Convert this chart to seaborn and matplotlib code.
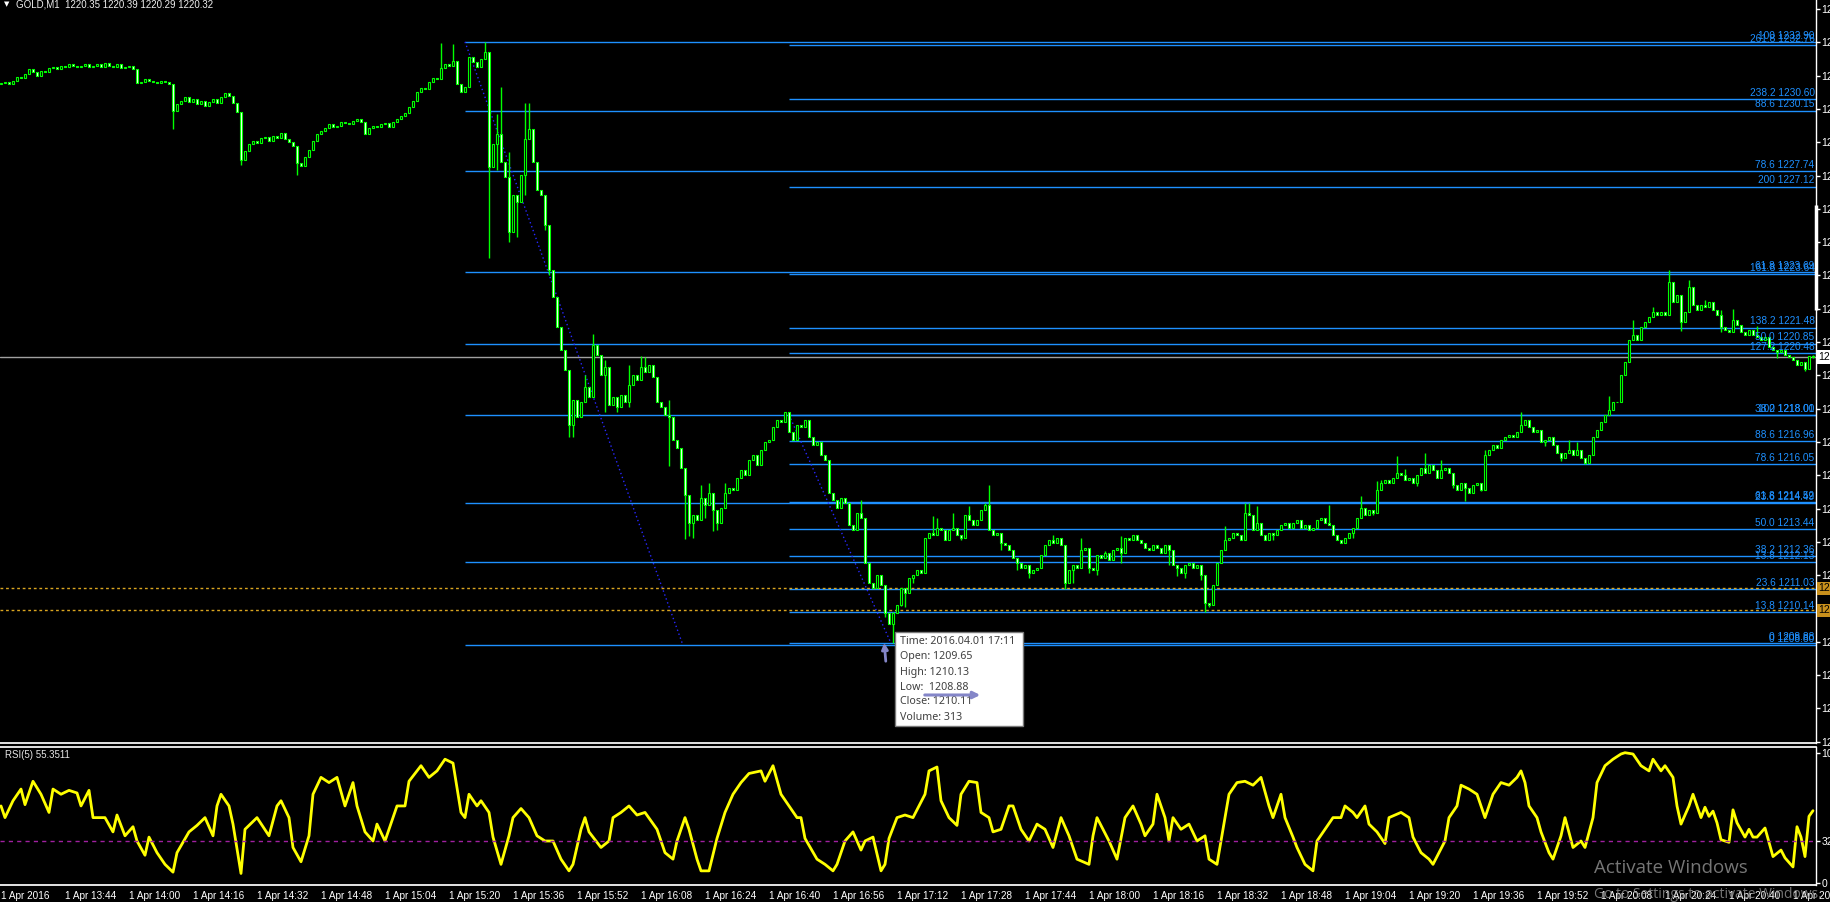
import numpy as np
import matplotlib
matplotlib.use("Agg")
import matplotlib.pyplot as plt
import seaborn as sns
from matplotlib.patches import Rectangle, FancyArrowPatch

# ---------------- data (GOLD M1, 1 Apr 2016, bars from 13:28) ----------------
first_open = 1231.20
closes = [
    1231.25, 1231.30, 1231.20, 1231.35, 1231.50, 1231.45, 1231.60, 1231.80, 1231.70, 1231.55,
    1231.75, 1231.70, 1231.85, 1231.90, 1231.80, 1231.95, 1231.90, 1232.00, 1231.95, 1231.90,
    1231.95, 1232.00, 1231.90, 1231.95, 1232.00, 1231.90, 1232.05, 1231.95, 1231.90, 1232.00,
    1231.85, 1231.90, 1231.95, 1231.80, 1231.25, 1231.30, 1231.40, 1231.35, 1231.30, 1231.25,
    1231.35, 1231.30, 1231.20, 1230.15, 1230.40, 1230.55, 1230.70, 1230.50, 1230.60, 1230.40,
    1230.55, 1230.35, 1230.50, 1230.60, 1230.45, 1230.70, 1230.85, 1230.75, 1230.45, 1230.10,
    1228.20, 1228.55, 1228.80, 1228.95, 1228.85, 1229.05, 1229.10, 1228.95, 1229.15, 1229.05,
    1229.25, 1229.00, 1228.90, 1228.75, 1228.05, 1227.95, 1228.30, 1228.60, 1228.95, 1229.20,
    1229.35, 1229.45, 1229.60, 1229.50, 1229.55, 1229.70, 1229.65, 1229.60, 1229.75, 1229.80,
    1229.70, 1229.20, 1229.45, 1229.55, 1229.50, 1229.60, 1229.65, 1229.50, 1229.70, 1229.80,
    1229.95, 1230.05, 1230.30, 1230.55, 1230.90, 1231.05, 1231.00, 1231.30, 1231.45, 1231.40,
    1231.85, 1232.00, 1231.95, 1232.15, 1231.20, 1230.90, 1231.10, 1232.30, 1232.10, 1231.90,
    1232.20, 1232.50, 1227.90, 1228.80, 1229.20, 1228.10, 1227.50, 1225.30, 1226.80, 1226.50,
    1227.60, 1229.00, 1229.40, 1228.10, 1227.00, 1226.80, 1225.60, 1223.80, 1222.70, 1221.50,
    1220.60, 1219.80, 1217.60, 1218.60, 1217.90, 1218.50, 1219.10, 1218.70, 1220.80, 1220.40,
    1219.60, 1219.90, 1218.40, 1218.70, 1218.30, 1218.80, 1218.50, 1219.20, 1219.60, 1219.40,
    1219.90, 1219.70, 1220.00, 1219.50, 1218.50, 1218.30, 1218.00, 1217.90, 1217.00, 1216.70,
    1215.90, 1214.80, 1213.70, 1214.00, 1213.80, 1214.70, 1214.40, 1214.90, 1214.20, 1213.70,
    1214.30, 1214.90, 1215.10, 1215.00, 1215.50, 1215.80, 1215.60, 1216.20, 1216.40, 1216.00,
    1216.60, 1216.90, 1217.00, 1217.50, 1217.80, 1217.70, 1218.10, 1217.30, 1217.00, 1217.60,
    1217.50, 1217.80, 1217.10, 1216.80, 1216.90, 1216.40, 1216.20, 1214.90, 1214.60, 1214.30,
    1214.70, 1214.50, 1213.60, 1213.40, 1214.10, 1213.90, 1212.10, 1211.30, 1211.10, 1211.60,
    1211.20, 1210.10, 1209.65, 1210.11, 1210.40, 1211.10, 1210.90, 1211.50, 1211.60, 1211.80,
    1211.70, 1213.10, 1213.30, 1213.20, 1213.50, 1213.40, 1213.00, 1213.40, 1213.50, 1213.20,
    1213.10, 1214.00, 1213.80, 1213.60, 1213.80, 1214.20, 1214.40, 1213.40, 1213.20, 1213.30,
    1212.90, 1212.80, 1212.60, 1212.30, 1212.10, 1211.90, 1212.00, 1211.70, 1211.80, 1211.90,
    1212.40, 1212.80, 1213.00, 1212.90, 1213.10, 1212.80, 1211.30, 1211.80, 1212.00, 1211.90,
    1212.60, 1212.70, 1211.90, 1211.80, 1212.40, 1212.30, 1212.50, 1212.20, 1212.60, 1212.70,
    1212.50, 1213.10, 1213.00, 1213.20, 1213.00, 1212.90, 1212.70, 1212.60, 1212.80, 1212.70,
    1212.50, 1212.80, 1212.60, 1212.00, 1211.90, 1211.70, 1212.00, 1212.10, 1211.90, 1212.00,
    1211.60, 1210.50, 1210.40, 1211.20, 1212.10, 1212.60, 1213.00, 1213.10, 1213.30, 1213.20,
    1213.00, 1214.10, 1214.00, 1213.40, 1213.70, 1213.20, 1213.00, 1213.30, 1213.20, 1213.40,
    1213.60, 1213.70, 1213.50, 1213.70, 1213.80, 1213.50, 1213.60, 1213.40, 1213.50, 1213.80,
    1213.90, 1213.70, 1213.60, 1213.20, 1213.00, 1212.90, 1213.10, 1213.30, 1213.50, 1213.90,
    1214.30, 1214.00, 1214.20, 1214.10, 1215.00, 1215.30, 1215.40, 1215.30, 1215.50, 1215.70,
    1215.60, 1215.40, 1215.50, 1215.30, 1215.60, 1215.90, 1215.70, 1216.00, 1215.80, 1215.50,
    1215.80, 1215.90, 1215.70, 1215.20, 1215.00, 1215.30, 1215.10, 1214.90, 1215.20, 1215.30,
    1215.00, 1216.40, 1216.60, 1216.80, 1216.70, 1217.00, 1217.10, 1217.20, 1217.10, 1217.30,
    1217.60, 1217.80, 1217.50, 1217.30, 1217.40, 1216.90, 1217.00, 1217.10, 1216.80, 1216.50,
    1216.30, 1216.50, 1216.60, 1216.40, 1216.60, 1216.30, 1216.10, 1216.40, 1217.10, 1217.40,
    1217.70, 1218.00, 1218.20, 1218.50, 1218.50, 1219.60, 1220.10, 1221.00, 1221.20, 1221.00,
    1221.50, 1221.70, 1221.90, 1222.10, 1222.00, 1222.10, 1222.00, 1223.30, 1222.50, 1222.80,
    1221.70, 1222.10, 1223.10, 1222.40, 1222.20, 1222.40, 1222.30, 1222.50, 1222.20, 1222.00,
    1221.50, 1221.40, 1221.30, 1221.80, 1221.60, 1221.30, 1221.20, 1221.40, 1221.20, 1221.10,
    1221.00, 1221.10, 1220.70, 1220.60, 1220.50, 1220.60, 1220.40, 1220.30, 1220.20, 1220.00,
    1220.10, 1219.85, 1220.35, 1220.32,
]
wick_high = {110: 1232.85, 113: 1232.80, 121: 1232.90, 124: 1230.00, 125: 1231.10,
             127: 1228.50, 131: 1230.46, 132: 1230.45, 146: 1219.60, 148: 1221.25,
             151: 1220.20, 157: 1220.00, 160: 1220.35, 161: 1220.30, 167: 1218.60,
             175: 1215.20, 177: 1215.30, 181: 1215.30, 215: 1214.60, 223: 1210.13,
             233: 1213.96, 234: 1213.90, 238: 1214.10, 242: 1214.36, 246: 1214.50,
             247: 1215.20, 263: 1213.20, 270: 1213.10, 276: 1212.55, 280: 1213.15,
             283: 1213.20, 306: 1213.55, 311: 1214.50, 312: 1214.50, 314: 1214.35,
             332: 1214.40, 340: 1214.76, 344: 1215.35, 345: 1215.40, 349: 1216.35,
             351: 1215.85, 356: 1216.50, 360: 1216.20, 371: 1216.60, 373: 1216.80,
             380: 1218.10, 392: 1217.00, 394: 1216.90, 402: 1218.75, 408: 1221.80,
             413: 1222.33, 417: 1223.80, 418: 1222.90, 422: 1223.40, 426: 1222.60,
             430: 1222.20, 433: 1222.25, 439: 1221.54, 453: 1220.39}
wick_low = {43: 1229.40, 60: 1228.00, 74: 1227.60, 122: 1224.25, 124: 1227.80,
            127: 1224.90, 128: 1226.00, 129: 1225.10, 131: 1226.80, 136: 1225.40,
            137: 1223.60, 142: 1217.10, 143: 1217.10, 145: 1217.90, 151: 1218.10,
            154: 1218.10, 157: 1218.30, 167: 1215.96, 171: 1213.05, 172: 1213.15,
            173: 1213.10, 176: 1213.90, 178: 1213.35, 179: 1213.40, 221: 1209.95,
            223: 1208.88, 225: 1210.37, 226: 1210.35, 228: 1211.30, 240: 1213.00,
            250: 1212.60, 254: 1211.80, 257: 1211.50, 266: 1211.05, 268: 1211.30,
            272: 1211.70, 274: 1211.60, 280: 1212.10, 292: 1212.00, 294: 1211.55,
            296: 1211.50, 300: 1211.40, 301: 1210.15, 302: 1210.35, 304: 1211.30,
            318: 1213.00, 334: 1213.15, 338: 1213.10, 343: 1214.00, 354: 1215.15,
            363: 1215.10, 365: 1215.00, 366: 1214.55, 370: 1214.95, 386: 1216.75,
            390: 1216.15, 396: 1216.05, 405: 1218.50, 420: 1221.34, 430: 1221.30,
            444: 1220.28, 451: 1219.75, 453: 1220.29}

# Fibonacci retracements (anchor bar, 0-level price, 100-level price)
fib1_start, fib1_p0, fib1_p100 = 116, 1208.80, 1232.90
fib1_end_bar = 170.5
fib1_levels = ["0", "13.8", "23.6", "38.2", "50.0", "61.8", "78.6", "88.6", "100"]
fib2_start, fib2_p0, fib2_p100 = 197, 1208.88, 1218.00
fib2_end_bar = 222.5
fib2_levels = ["0", "13.8", "23.6", "38.2", "50.0", "61.8", "78.6", "88.6", "100",
               "127.2", "138.2", "161.8", "200", "238.2", "261.8"]
bid_price = 1220.32
order_lines = [1211.07, 1210.20]

price_ticks = [1204.95, 1206.28, 1207.61, 1208.94, 1210.27, 1211.60, 1212.93, 1214.26,
               1215.59, 1216.92, 1218.25, 1219.58, 1220.91, 1222.24, 1223.57, 1224.90,
               1226.23, 1227.56, 1228.89, 1230.22, 1231.55, 1232.88, 1234.21]

time_labels = ["1 Apr 2016", "1 Apr 13:44", "1 Apr 14:00", "1 Apr 14:16", "1 Apr 14:32",
               "1 Apr 14:48", "1 Apr 15:04", "1 Apr 15:20", "1 Apr 15:36", "1 Apr 15:52",
               "1 Apr 16:08", "1 Apr 16:24", "1 Apr 16:40", "1 Apr 16:56", "1 Apr 17:12",
               "1 Apr 17:28", "1 Apr 17:44", "1 Apr 18:00", "1 Apr 18:16", "1 Apr 18:32",
               "1 Apr 18:48", "1 Apr 19:04", "1 Apr 19:20", "1 Apr 19:36", "1 Apr 19:52",
               "1 Apr 20:08", "1 Apr 20:24", "1 Apr 20:40", "1 Apr 20:56"]

rsi_bar = [0, 1, 3, 5, 6, 8, 10, 12, 13, 15, 17, 19, 20, 22, 23, 26, 28, 29, 31, 33, 34, 36, 37, 39,
           41, 43, 44, 47, 49, 51, 53, 54, 55, 57, 58, 60, 61, 64, 67, 69, 70, 72, 73, 75, 77, 78,
           80, 82, 84, 86, 88, 89, 91, 93, 94, 96, 98, 99, 101, 102, 105, 107, 109, 111, 113, 115,
           116, 117, 119, 120, 122, 123, 125, 127, 128, 130, 132, 134, 136, 138, 140, 142, 143,
           145, 146, 147, 150, 152, 153, 155, 157, 159, 161, 164, 166, 168, 169, 171, 172, 174,
           175, 177, 179, 181, 183, 185, 187, 190, 191, 193, 195, 197, 199, 200, 201, 204, 206,
           208, 209, 211, 213, 215, 216, 218, 220, 221, 222, 224, 226, 228, 231, 232, 234, 235,
           237, 239, 240, 242, 244, 245, 247, 248, 250, 252, 253, 255, 257, 259, 261, 263, 265,
           267, 269, 272, 273, 274, 277, 279, 281, 283, 285, 286, 288, 289, 291, 292, 293, 295,
           297, 299, 301, 302, 304, 305, 307, 309, 311, 313, 315, 317, 318, 320, 321, 323, 324,
           326, 328, 329, 331, 333, 335, 336, 338, 339, 341, 342, 344, 346, 347, 350, 352, 353,
           355, 357, 358, 361, 362, 364, 365, 367, 369, 371, 373, 375, 377, 379, 380, 381, 382,
           384, 385, 387, 388, 390, 391, 393, 395, 396, 398, 399, 401, 403, 405, 406, 408, 410,
           412, 413, 415, 416, 418, 419, 420, 422, 423, 425, 426, 427, 428, 429, 430, 432, 433,
           434, 436, 437, 438, 439, 441, 442, 443, 445, 446, 448, 449, 450, 451, 452, 453]
rsi_val = [59, 50, 63, 72, 60, 78, 68, 54, 72, 68, 71, 69, 59, 71, 50, 50, 39, 52, 36, 43, 32, 21,
           35, 23, 14, 8, 23, 39, 44, 50, 36, 59, 68, 59, 45, 7, 41, 50, 36, 59, 63, 50, 27, 16, 36,
           68, 81, 77, 81, 59, 77, 59, 39, 32, 45, 32, 50, 59, 59, 78, 90, 81, 86, 95, 92, 54, 50,
           68, 59, 63, 54, 35, 14, 36, 50, 57, 50, 36, 32, 32, 18, 9, 14, 41, 50, 39, 27, 32, 50,
           54, 59, 52, 54, 41, 23, 18, 32, 50, 41, 18, 9, 9, 34, 54, 68, 77, 84, 86, 78, 90, 68,
           59, 50, 50, 34, 18, 14, 9, 14, 32, 39, 25, 32, 35, 9, 14, 34, 50, 52, 50, 68, 86, 89,
           63, 50, 44, 68, 78, 77, 54, 50, 39, 41, 59, 59, 41, 32, 45, 41, 27, 50, 36, 18, 14, 36,
           50, 32, 18, 50, 59, 45, 36, 45, 68, 50, 32, 50, 41, 45, 32, 36, 18, 14, 32, 68, 77, 78,
           75, 81, 59, 50, 68, 50, 35, 27, 14, 9, 32, 41, 50, 50, 59, 54, 50, 59, 45, 39, 30, 50,
           54, 50, 35, 23, 18, 14, 32, 50, 59, 75, 72, 68, 50, 68, 77, 75, 81, 86, 77, 59, 50, 39,
           23, 18, 36, 50, 27, 32, 27, 50, 77, 90, 95, 99, 100, 99, 90, 86, 95, 86, 90, 81, 59, 45,
           59, 68, 50, 58, 51, 55, 46, 33, 31, 56, 46, 35, 41, 35, 35, 42, 31, 20, 25, 19, 12, 43,
           35, 20, 51, 55.35]
rsi_level = 32

# ---------------- style ----------------
sns.set_theme(style="dark")
plt.rcParams["font.family"] = ["Liberation Sans", "DejaVu Sans"]

W, H = 1831, 902
fig = plt.figure(figsize=(W / 100, H / 100), dpi=100, facecolor="black")


def box(x0, y0, x1, y1):
    return [x0 / W, 1 - y1 / H, (x1 - x0) / W, (y1 - y0) / H]


def fpt(x, y):
    return (x / W, 1 - y / H)


ax = fig.add_axes(box(0, 0, 1816, 743))
axr = fig.add_axes(box(0, 747, 1816, 885))
for a in (ax, axr):
    a.set_facecolor("black")
    a.grid(False)
    for s in a.spines.values():
        s.set_visible(False)
    a.spines["right"].set_visible(True)
    a.spines["right"].set_color("white")
    a.spines["right"].set_linewidth(1)
    a.set_xlim(-0.25, 453.75)
ax.spines["bottom"].set_visible(True)
ax.spines["bottom"].set_color("white")
axr.spines["top"].set_visible(True)
axr.spines["top"].set_color("white")
axr.spines["bottom"].set_visible(True)
axr.spines["bottom"].set_color("white")

# ---------------- candles ----------------
n = len(closes)
xs = np.arange(n)
c = np.array(closes)
o = np.concatenate([[first_open], c[:-1]])
hi = np.maximum(o, c)
lo = np.minimum(o, c)
for k, v in wick_high.items():
    hi[k] = max(hi[k], v)
for k, v in wick_low.items():
    lo[k] = min(lo[k], v)
up = c >= o
ax.vlines(xs, lo, hi, color="#00FF00", lw=1, zorder=3)
ax.bar(xs, np.maximum(np.abs(c - o), 0.02), bottom=np.minimum(o, c), width=0.55,
       color=np.where(up, "black", "white"), edgecolor="#00FF00", linewidth=0.8, zorder=4)

ax.set_ylim(1204.90, 1234.57)
ax.set_xticks([])
ax.yaxis.tick_right()
ax.set_yticks(price_ticks)
ax.set_yticklabels([f"{p:.2f}" for p in price_ticks])
ax.tick_params(axis="y", colors="white", labelsize=7.5, length=2.6, width=1, pad=1.4,
               direction="out")

# ---------------- fibonacci ----------------
fib_col = "#1E90FF"
for start, p0, p100, levels in [(fib1_start, fib1_p0, fib1_p100, fib1_levels),
                                (fib2_start, fib2_p0, fib2_p100, fib2_levels)]:
    for lv in levels:
        p = p0 + float(lv) / 100 * (p100 - p0)
        ax.hlines(p, start, 453.75, color=fib_col, lw=1, zorder=2)
        ax.text(453.4, p + 0.05, f"{lv} {p:.2f}", color=fib_col, fontsize=7.3,
                ha="right", va="bottom", clip_on=True, zorder=5)
ax.plot([fib1_start, fib1_end_bar], [fib1_p100, fib1_p0], color="#2828FF", lw=1,
        ls=(0, (1, 2)), zorder=2)
ax.plot([fib2_start, fib2_end_bar], [fib2_p100, fib2_p0], color="#2828FF", lw=1,
        ls=(0, (1, 2)), zorder=2)

# bid line / pending order lines
ax.axhline(bid_price, color="#A0A0A0", lw=1, zorder=2)
for p in order_lines:
    ax.axhline(p, color="#DAA520", lw=1, ls=(0, (2, 2)), zorder=2)
    ax.text(1.0012, p, f"{p:.2f}", transform=ax.get_yaxis_transform(), color="black",
            fontsize=7.5, va="center", ha="left", clip_on=False, zorder=6,
            bbox=dict(facecolor="#C8901C", edgecolor="none", pad=1.2))
ax.text(1.0012, bid_price, f"{bid_price:.2f}", transform=ax.get_yaxis_transform(),
        color="black", fontsize=7.5, va="center", ha="left", clip_on=False, zorder=6,
        bbox=dict(facecolor="white", edgecolor="none", pad=1.2))
ax.plot([1, 1], [1222.19, 1226.38], transform=ax.get_yaxis_transform(), color="white",
        lw=2.5, solid_capstyle="butt", clip_on=False, zorder=6)

# ---------------- RSI ----------------
sns.lineplot(x=rsi_bar, y=rsi_val, ax=axr, color="#FFFF00", lw=2.0, estimator=None)
axr.axhline(rsi_level, color="#A020A0", lw=1, ls=(0, (3, 3)))
axr.set_ylim(-1.9, 104.4)
axr.yaxis.tick_right()
axr.set_yticks([0, rsi_level, 100])
axr.set_yticklabels(["0", str(rsi_level), "100"])
axr.tick_params(axis="y", colors="white", labelsize=7.5, length=2.6, width=1, pad=1.4)
axr.set_xticks(list(range(0, 16 * len(time_labels), 16)))
axr.set_xticklabels(time_labels, ha="left")
axr.tick_params(axis="x", colors="white", labelsize=7.2, length=3, width=1, pad=1.5,
                direction="out")
axr.set_xlabel("")
axr.set_ylabel("")

# ---------------- texts ----------------
fig.text(*fpt(4, 4.5), "\u25BC", color="white", fontsize=5, va="center", ha="left",
         family=["DejaVu Sans"])
fig.text(*fpt(16, 4.5), "GOLD,M1  1220.35 1220.39 1220.29 1220.32", color="#EEEEEE",
         fontsize=7, va="center", ha="left")
fig.text(*fpt(5, 755), "RSI(5) 55.3511", color="#E6E6E6", fontsize=7, va="center", ha="left")

# tooltip
fig.add_artist(Rectangle(fpt(895, 726), 128 / W, 94 / H, transform=fig.transFigure,
                         facecolor="white", edgecolor="#7A7A7A", lw=1, zorder=10))
tip_lines = ["Time: 2016.04.01 17:11", "Open: 1209.65", "High: 1210.13", "Low:  1208.88",
             "Close: 1210.11", "Volume: 313"]
for k, t in enumerate(tip_lines):
    fig.text(*fpt(900, 642 + 15 * k), t, color="#404040", fontsize=7.7, va="center",
             ha="left", family=["Noto Sans", "DejaVu Sans"], zorder=11)
fig.add_artist(FancyArrowPatch(fpt(886, 664), fpt(884, 640), transform=fig.transFigure,
                               arrowstyle="-|>", mutation_scale=9, lw=2, color="#8486C8",
                               zorder=12))
fig.add_artist(FancyArrowPatch(fpt(922, 695), fpt(983, 695), transform=fig.transFigure,
                               arrowstyle="-|>", mutation_scale=10, lw=2.2, color="#8486C8",
                               zorder=12))

# watermark
fig.text(*fpt(1594, 868), "Activate Windows", color=(0.62, 0.62, 0.62, 0.75), fontsize=13.5,
         va="center", ha="left", family=["Open Sans", "DejaVu Sans"], zorder=13)
fig.text(*fpt(1594, 895), "Go to Settings to activate Windows.", color=(0.62, 0.62, 0.62, 0.75),
         fontsize=10, va="center", ha="left", family=["Open Sans", "DejaVu Sans"], zorder=13)

fig.savefig("out.png", dpi=100, facecolor="black")
